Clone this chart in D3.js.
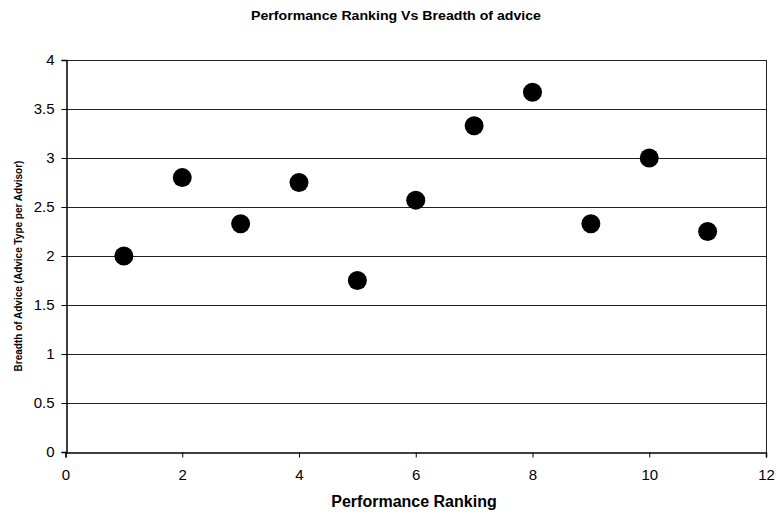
<!DOCTYPE html>
<html>
<head>
<meta charset="utf-8">
<script src="https://cdn.jsdelivr.net/npm/d3@7"></script>
<style>
  html, body { margin: 0; padding: 0; background: #fff; }
  svg { display: block; font-family: "Liberation Sans", Arial, sans-serif; }
</style>
</head>
<body>
<svg id="chart" width="776" height="513"></svg>
<script>
// Performance ranking (x) against breadth of advice (y)
const rankings = [1, 2, 3, 4, 5, 6, 7, 8, 9, 10, 11];
const breadth = [2.0, 2.8, 2.33, 2.75, 1.75, 2.57, 3.33, 3.67, 2.33, 3.0, 2.25];
const xTickValues = [0, 2, 4, 6, 8, 10, 12];
const yTickValues = [0, 0.5, 1, 1.5, 2, 2.5, 3, 3.5, 4];

const titleText = "Performance Ranking Vs Breadth of advice";
const xTitle = "Performance Ranking";
const yTitle = "Breadth of Advice (Advice Type per Advisor)";

const svg = d3.select("#chart");
const margin = { left: 65.5, right: 10, top: 60, bottom: 61 };
const W = 776, H = 513;

const x = d3.scaleLinear().domain([0, 12]).range([margin.left, W - margin.right]);
const y = d3.scaleLinear().domain([0, 4]).range([H - margin.bottom, margin.top]);

// horizontal gridlines
svg.append("g")
  .selectAll("line")
  .data(yTickValues.filter(v => v > 0))
  .join("line")
  .attr("x1", x(0)).attr("x2", x(12))
  .attr("y1", d => Math.round(y(d)) + 0.5).attr("y2", d => Math.round(y(d)) + 0.5)
  .attr("stroke", "#222").attr("stroke-width", 1);

// right border of plot area
svg.append("line")
  .attr("x1", Math.round(x(12)) + 0.5).attr("x2", Math.round(x(12)) + 0.5)
  .attr("y1", y(4)).attr("y2", y(0))
  .attr("stroke", "#222");

// axes
const xAxis = svg.append("g")
  .attr("transform", `translate(0,${Math.round(y(0)) + 0.5})`)
  .call(d3.axisBottom(x).tickValues(xTickValues).tickSize(5).tickPadding(12).tickFormat(d3.format("d")));
const yAxis = svg.append("g")
  .attr("transform", `translate(${Math.round(x(0)) + 0.5},0)`)
  .call(d3.axisLeft(y).tickValues(yTickValues).tickSize(5).tickPadding(7).tickFormat(d => String(d)));

[xAxis, yAxis].forEach(g => {
  g.select(".domain").attr("stroke", "#000").attr("stroke-width", 1.5);
  g.selectAll(".tick line").attr("stroke", "#000");
  g.selectAll(".tick text")
    .attr("fill", "#000")
    .style("font-size", "15px")
    .style("font-family", "'Liberation Sans', Arial, sans-serif");
});

// points
svg.append("g")
  .selectAll("circle")
  .data(rankings.map((r, i) => ({ r, v: breadth[i] })))
  .join("circle")
  .attr("cx", d => x(d.r))
  .attr("cy", d => y(d.v))
  .attr("r", 9.5)
  .attr("fill", "#000");

// titles
svg.append("text")
  .attr("x", 396).attr("y", 20)
  .attr("text-anchor", "middle")
  .attr("textLength", 290).attr("lengthAdjust", "spacingAndGlyphs")
  .style("font-size", "13px").style("font-weight", "bold")
  .text(titleText);

svg.append("text")
  .attr("x", 414).attr("y", 507)
  .attr("text-anchor", "middle")
  .style("font-size", "16px").style("font-weight", "bold")
  .text(xTitle);

svg.append("text")
  .attr("transform", `translate(22,${(y(0) + y(4)) / 2 + 10}) rotate(-90)`)
  .attr("text-anchor", "middle")
  .style("font-size", "10px").style("font-weight", "bold")
  .text(yTitle);
</script>
</body>
</html>
